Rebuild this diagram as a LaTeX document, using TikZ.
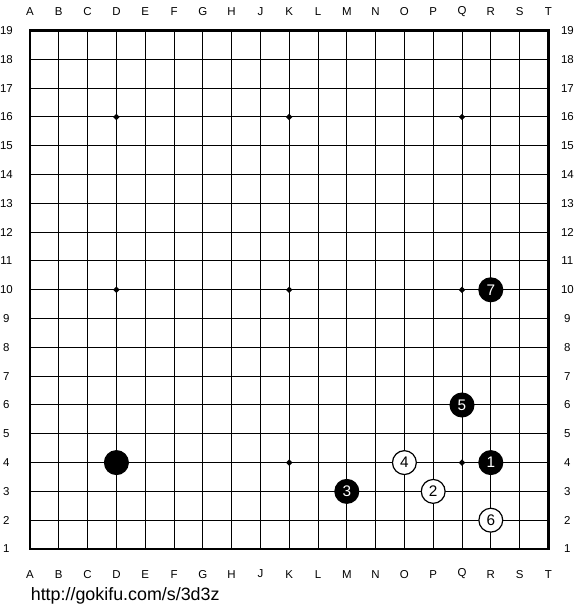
\documentclass[tikz,border=0pt]{standalone}
\usepackage{fontspec}
\setmainfont{Liberation Sans}
\usetikzlibrary{positioning, shapes.geometric}

\begin{document}
\begin{tikzpicture}[
  x=21.6pt, y=21.6pt,
  gridline/.style={line width=0.75pt, black},
  edgeline/.style={line width=2pt, black, line cap=rect},
  coordlabel/.style={font=\fontsize{8.6}{10}\selectfont, inner sep=0pt},
  hoshi/.style={diamond, fill=black, inner sep=0pt, minimum size=5pt},
  blackstone/.style={circle, fill=black, text=white, minimum size=18.8pt,
               inner sep=0pt, font=\fontsize{11.5}{12}\selectfont},
  whitestone/.style={circle, draw=black, line width=0.9pt, fill=white,
               text=black, minimum size=17.9pt, inner sep=0pt,
               font=\fontsize{11.5}{12}\selectfont},
  urltext/.style={font=\fontsize{13.4}{15}\selectfont, inner sep=0pt},
]
\useasboundingbox (-1.0417,-2.118) rectangle (19.097,19.0625);

% grid
\foreach \i in {1,...,17} {
  \draw[gridline] (\i,0) -- (\i,18);
  \draw[gridline] (0,\i) -- (18,\i);
}
\draw[edgeline] (0,0) rectangle (18,18);

% star points
\foreach \x in {3,9,15}
  \foreach \y in {3,9,15}
    \node[hoshi] (hoshi-\x-\y) at (\x,\y) {};

% coordinates
\foreach \l [count=\i from 0] in {A,B,C,D,E,F,G,H,J,K,L,M,N,O,P,Q,R,S,T} {
  \node[coordlabel] (top-\l) at (\i,18.66) {\l};
  \node[coordlabel] (bot-\l) at (\i,-0.87) {\l};
}
\foreach \n in {1,...,19} {
  \node[coordlabel] (left-\n) at (-0.82,\n-1) {\n};
  \node[coordlabel] (right-\n) at (18.66,\n-1) {\n};
}

% stones
\node[blackstone] (d4) at (3,3) {};
\node[blackstone] (mv1) at (16,3) {1};
\node[whitestone] (mv2) at (14,2) {2};
\node[blackstone] (mv3) at (11,2) {3};
\node[whitestone] (mv4) at (13,3) {4};
\node[blackstone] (mv5) at (15,5) {5};
\node[whitestone] (mv6) at (16,1) {6};
\node[blackstone] (mv7) at (16,9) {7};

\node[urltext, anchor=base west] (url) at (0.02,-1.80) {http://gokifu.com/s/3d3z};
\end{tikzpicture}
\end{document}
